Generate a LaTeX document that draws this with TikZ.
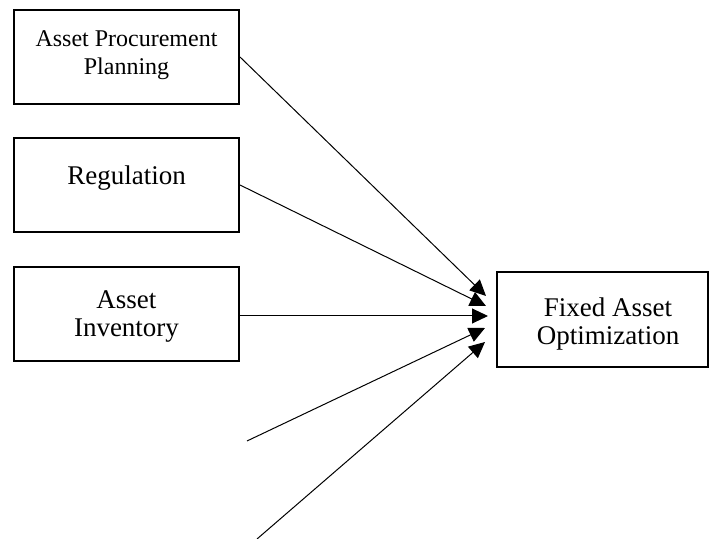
\documentclass[tikz,border=0pt]{standalone}
\usepackage{fontspec}
\setmainfont{Liberation Serif}
\usetikzlibrary{arrows.meta,positioning}

\tikzset{
  factor/.style={draw, line width=1pt, minimum width=112.5pt, minimum height=47pt, inner sep=0pt},
  caption/.style={anchor=north, align=center, inner sep=0pt, font=\fontsize{13.5}{14}\selectfont},
  link/.style={line width=0.5pt, -{Triangle[length=8pt,width=7.5pt]}}
}

\begin{document}
\begin{tikzpicture}[x=0.5pt,y=-0.5pt]
          \useasboundingbox (0,0) rectangle (709,539);
          % boxes
          \node[factor] (plan) at (126.5,57) {};
          \node[factor] (reg) at (126.5,185) {};
          \node[factor] (inv) at (126.5,314) {};
          \node[factor, minimum width=105.5pt, minimum height=47.5pt] (opt) at (602,319.5) {};
          % texts
          \node[caption, font=\fontsize{12}{14}\selectfont] (plantxt) at (126.5,30) {Asset Procurement\\Planning};
          \node[caption] (regtxt) at (126.5,165) {Regulation};
          \node[caption] (invtxt) at (126.5,290) {Asset\\Inventory};
          \node[caption] (opttxt) at (608,297) {Fixed Asset\\Optimization};
          % arrow tips and loose ends
          \coordinate (t1) at (486,296);
          \coordinate (t2) at (486,306);
          \coordinate (t3) at (488,316);
          \coordinate (t4) at (485,328);
          \coordinate (t5) at (485,342);
          \coordinate (s4) at (247,441);
          \coordinate (s5) at (257,539);
          \draw[link] (plan.east) -- (t1);
          \draw[link] (reg.east) -- (t2);
          \draw[link] (inv.east |- t3) -- (t3);
          \draw[link] (s4) -- (t4);
          \draw[link] (s5) -- (t5);
        \end{tikzpicture}
\end{document}
